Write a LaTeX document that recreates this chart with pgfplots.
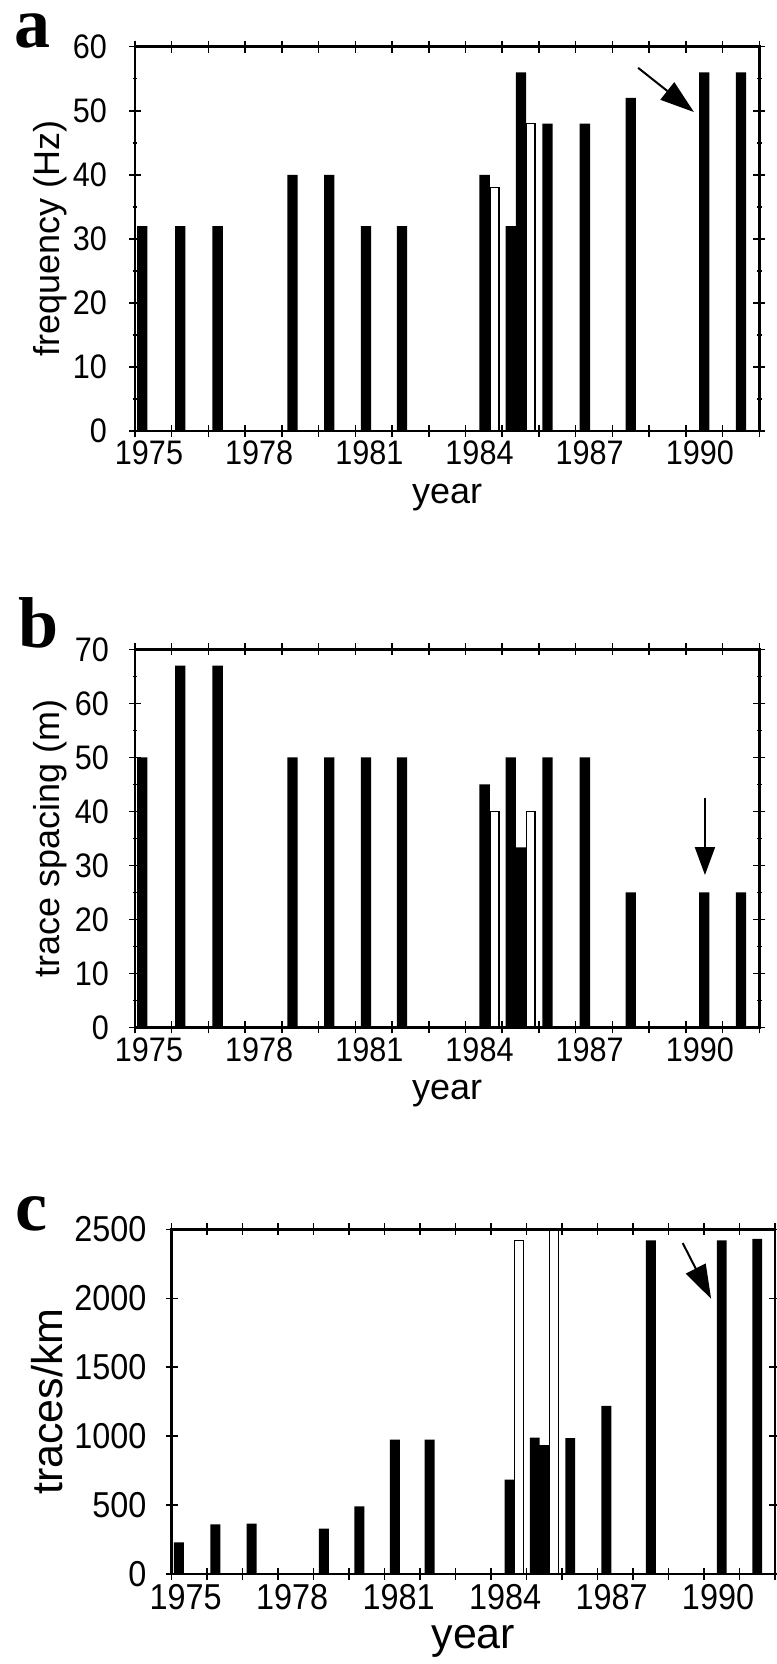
\documentclass[border=0pt]{standalone}
\usepackage{fontspec}
\setmainfont{Liberation Sans}
\newfontfamily\tickfam[FakeStretch=0.9]{Liberation Sans}
\newfontfamily\letterfam{Liberation Serif}
\usepackage{pgfplots}
\pgfplotsset{compat=1.18}
\usetikzlibrary{arrows.meta}
\newcommand\tickfont{\tickfam\fontsize{34}{36}\selectfont}
\newcommand\labfont{\fontsize{36}{40}\selectfont}
\newcommand\tickfontc{\tickfam\fontsize{36}{38}\selectfont}
\newcommand\labfontc{\fontsize{43}{46}\selectfont}
\newcommand\letterfont{\letterfam\bfseries\fontsize{72}{74}\selectfont}
\pgfplotsset{
  panel/.style={
    scale only axis, axis on top, clip=true,
    xmin=1975, xmax=1992, ymin=0,
    xtick={1975,1976,...,1992},
    xticklabels={1975,,,1978,,,1981,,,1984,,,1987,,,1990,,},
    tick align=center, major tick length=12pt, minor tick length=5pt,
    tick style={black, line width=1.5pt},
    axis line style={line width=2.5pt},
    /pgf/number format/assume math mode=true,
    /pgf/number format/1000 sep={},
  },
  blackbar/.style={ybar, bar width=0.28, bar shift=0pt, fill=black, draw=none},
  whitebar/.style={ybar, bar width=0.24, bar shift=0pt, fill=white, draw=black, line width=1.2pt},
}
\begin{document}
\begin{tikzpicture}

% ---------- panel a ----------
\begin{axis}[panel, at={(135pt,-431pt)}, anchor=south west,
  width=624.3pt, height=384.3pt, ymax=60, ytick={0,10,...,60}, minor y tick num=1,
  ylabel={frequency (Hz)}, xlabel={year},
  ylabel style={font=\labfont, at={(axis description cs:-0.136,0.5)}, anchor=center},
  xlabel style={font=\labfont, at={(axis description cs:0.5,0)}, anchor=base, yshift=-72pt},
  yticklabel style={font=\tickfont, anchor=east, inner sep=0pt, xshift=-22pt},
  xticklabel style={font=\tickfont, anchor=north, inner sep=0pt, yshift=-4pt, xshift=14pt}]
\addplot[blackbar] coordinates {(1975.2,32) (1976.23,32) (1977.25,32) (1979.29,40) (1980.29,40)
  (1981.29,32) (1982.27,32) (1984.52,40) (1985.23,32) (1985.51,56) (1986.23,48) (1987.25,48)
  (1988.5,52) (1990.5,56) (1991.5,56)};
\addplot[whitebar] coordinates {(1984.79,38) (1985.77,48)};
\draw[line width=2pt, -{Triangle[length=34pt,width=22pt]}] (axis cs:1988.7,56.7) -- (axis cs:1990.22,49.8);
\end{axis}
\node[anchor=base west, inner sep=0pt, font=\letterfont] at (14pt,-48pt) {a};

% ---------- panel b ----------
\begin{axis}[panel, at={(135pt,-1027.3pt)}, anchor=south west,
  width=624.3pt, height=378pt, ymax=70, ytick={0,10,...,70}, minor y tick num=1,
  ylabel={trace spacing (m)}, xlabel={year},
  ylabel style={font=\labfont, at={(axis description cs:-0.136,0.5)}, anchor=center},
  xlabel style={font=\labfont, at={(axis description cs:0.5,0)}, anchor=base, yshift=-72pt},
  yticklabel style={font=\tickfont, anchor=east, inner sep=0pt, xshift=-20pt},
  xticklabel style={font=\tickfont, anchor=north, inner sep=0pt, yshift=-4pt, xshift=14pt}]
\addplot[blackbar] coordinates {(1975.2,50) (1976.23,67) (1977.25,67) (1979.29,50) (1980.29,50)
  (1981.29,50) (1982.27,50) (1984.52,45) (1985.23,50) (1985.51,33.3) (1986.23,50) (1987.25,50)
  (1988.5,25) (1990.5,25) (1991.5,25)};
\addplot[whitebar] coordinates {(1984.79,40) (1985.77,40)};
\draw[line width=2pt, -{Triangle[length=28pt,width=20pt]}] (axis cs:1990.52,42.5) -- (axis cs:1990.52,28.2);
\end{axis}
\node[anchor=base west, inner sep=0pt, font=\letterfont] at (18pt,-647pt) {b};

% ---------- panel c ----------
\begin{axis}[panel, at={(171.7pt,-1574pt)}, anchor=south west,
  width=603.3pt, height=344.7pt, ymax=2500, ytick={0,500,...,2500},
  ylabel={traces/km}, xlabel={year},
  ylabel style={font=\labfontc, at={(axis description cs:-0.207,0.5)}, anchor=center},
  xlabel style={font=\labfontc, at={(axis description cs:0.5,0)}, anchor=base, yshift=-74pt},
  yticklabel style={font=\tickfontc, anchor=east, inner sep=0pt, xshift=-19pt},
  xticklabel style={font=\tickfontc, anchor=north, inner sep=0pt, yshift=-4pt, xshift=14pt}]
\addplot[blackbar] coordinates {(1975.2,230) (1976.23,360) (1977.25,365) (1979.29,330) (1980.29,490)
  (1981.29,975) (1982.27,975) (1984.52,685) (1985.23,990) (1985.51,935) (1986.23,985) (1987.25,1220)
  (1988.5,2420) (1990.5,2420) (1991.5,2430)};
\addplot[whitebar] coordinates {(1984.79,2420) (1985.77,3000)};
\draw[line width=2pt, -{Triangle[length=34pt,width=22pt]}] (axis cs:1989.4,2400) -- (axis cs:1990.2,1996);
\end{axis}
\node[anchor=base west, inner sep=0pt, font=\letterfont] at (15pt,-1230pt) {c};

\pgfresetboundingbox
\path[use as bounding box] (0pt,0pt) rectangle (776pt,-1664pt);
\end{tikzpicture}
\end{document}
